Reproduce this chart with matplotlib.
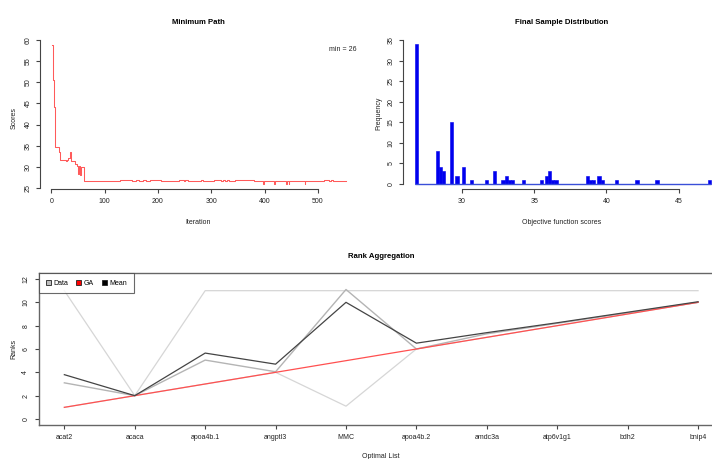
import numpy as np
import matplotlib
matplotlib.use("Agg")
import matplotlib.pyplot as plt
from matplotlib.lines import Line2D

plt.rcParams['font.family'] = ['Liberation Sans', 'DejaVu Sans']

# ---------------- data ----------------
# Minimum path (step change points: iteration, score)
path_iter = [1, 3, 4, 5, 7, 8, 12, 14, 17, 28, 30, 31, 34, 36, 37, 38, 40, 45, 48, 50, 51, 52, 53, 54, 56, 57, 58, 61,
             129, 151, 158, 165, 172, 178, 185, 205, 240, 248, 250, 256, 280, 285, 305, 318, 322, 326, 330, 334,
             345, 380, 397, 398, 418, 419, 440, 441, 445, 446, 475, 476, 512, 520, 524, 528, 553]
path_score = [58.8, 57.6, 50.5, 44.2, 41.9, 34.8, 34.8, 33.6, 31.6, 31.3, 31.6, 32.1, 32.1, 33.6, 32.8, 31.3, 31.3,
              30.8, 30.2, 30.2, 28.3, 30.2, 30.2, 28.0, 30.0, 30.0, 30.0, 26.7,
              27.0, 26.7, 27.0, 26.7, 27.0, 26.7, 27.0, 26.7, 27.0, 26.7, 27.0, 26.7, 27.0, 26.7, 27.0, 26.7,
              27.0, 26.7, 27.0, 26.7, 27.0, 26.7, 26.0, 26.7, 26.0, 26.7, 26.0, 26.7, 26.0, 26.7, 26.0, 26.7,
              27.0, 26.7, 27.0, 26.7, 26.7]
min_score = 26

# Final sample distribution (bin left edges, counts)
bin_left = [26.75, 28.18, 28.40, 28.62, 29.17, 29.56, 29.98, 30.55, 31.59, 32.16, 32.74, 32.96, 33.18, 33.40,
            34.17, 35.39, 35.74, 35.96, 36.18, 36.40, 38.58, 38.80, 39.02, 39.38, 39.60, 40.57, 42.00, 43.39, 47.02]
bin_count = [34, 8, 4, 3, 15, 2, 4, 1, 1, 3, 1, 2, 1, 1,
             1, 1, 2, 3, 1, 1, 2, 1, 1, 2, 1, 1, 1, 1, 1]
bin_width = 0.22
hist_range = [26.75, 47.24]

# Rank aggregation
genes = ["acat2", "acaca", "apoa4b.1", "angptl3", "MMC", "apoa4b.2", "amdc3a", "atp6v1g1", "bdh2", "bnip4"]
data_light1 = [11, 2, 11, 11, 11, 11, 11, 11, 11, 11]
data_light2 = [1, 2, 3, 4, 1.1, 6, 7, 8, 9, 10]
data_mid = [3.1, 2, 5.05, 4.05, 11.1, 6, 7.3, 8.2, 9.1, 10.0]
ga_rank = [1, 2, 3, 4, 5, 6, 7, 8, 9, 10]
mean_rank = [3.8, 2, 5.65, 4.7, 10.0, 6.5, 7.4, 8.25, 9.15, 10.05]

# ---------------- figure ----------------
W, H = 712, 459
fig = plt.figure(figsize=(W / 100, H / 100), dpi=100)

def box(x0, x1, ytop, ybot):
    return [x0 / W, 1 - ybot / H, (x1 - x0) / W, (ybot - ytop) / H]

axcol = '#444444'
txtcol = '#222222'
tick_fs = 5.0
lab_fs = 5.0
title_fs = 5.6

def style_r(ax):
    for s in ['top', 'right']:
        ax.spines[s].set_visible(False)
    for s in ['left', 'bottom']:
        ax.spines[s].set_color(axcol)
        ax.spines[s].set_linewidth(0.8)
    ax.tick_params(direction='out', length=3.0, width=0.8, color=axcol, labelsize=tick_fs,
                   labelcolor=txtcol, pad=3)
    for lab in ax.get_yticklabels():
        lab.set_rotation(90)
        lab.set_va('center')

# --- Minimum Path ---
ax1 = fig.add_axes(box(40, 358, 38.6, 189.4))
ax1.plot(path_iter, path_score, drawstyle='steps-post', color='#ff5a5a', lw=0.75)
ax1.set_xlim(-21, 575)
ax1.set_ylim(24.68, 60.32)
ax1.set_xticks([0, 100, 200, 300, 400, 500])
ax1.set_yticks([25, 30, 35, 40, 45, 50, 55, 60])
ax1.spines['left'].set_bounds(25, 60)
ax1.spines['bottom'].set_bounds(0, 500)
style_r(ax1)
ax1.text(0.994, 0.931, "min = %d" % min_score, transform=ax1.transAxes, ha='right', va='center',
         fontsize=tick_fs, color=txtcol)
fig.text(198 / W, 1 - 22 / H, "Minimum Path", ha='center', va='center', fontsize=title_fs, fontweight='bold')
fig.text(198 / W, 1 - 222 / H, "Iteration", ha='center', va='center', fontsize=lab_fs, color=txtcol)
fig.text(14 / W, 1 - 118 / H, "Scores", ha='center', va='center', fontsize=lab_fs, rotation=90, color=txtcol)

# --- Final Sample Distribution ---
ax2 = fig.add_axes(box(403, 723, 38.6, 189.4))
ax2.hlines(0, hist_range[0], hist_range[1], color='#3a4fd8', lw=1.0)
ax2.bar(bin_left, bin_count, width=bin_width, align='edge', color='#0000ee', edgecolor='#0000ee', lw=0.4)
ax2.set_xlim(25.93, 48.06)
ax2.set_ylim(-1.36, 35.36)
ax2.set_xticks([30, 35, 40, 45])
ax2.set_yticks([0, 5, 10, 15, 20, 25, 30, 35])
ax2.spines['left'].set_bounds(0, 35)
ax2.spines['bottom'].set_bounds(30, 45)
style_r(ax2)
fig.text(562 / W, 1 - 22 / H, "Final Sample Distribution", ha='center', va='center', fontsize=title_fs,
         fontweight='bold')
fig.text(562 / W, 1 - 222 / H, "Objective function scores", ha='center', va='center', fontsize=lab_fs,
         color=txtcol)
fig.text(379 / W, 1 - 113 / H, "Frequency", ha='center', va='center', fontsize=lab_fs, rotation=90,
         color=txtcol)

# --- Rank Aggregation ---
ax3 = fig.add_axes(box(39, 723.4, 273.4, 424.6))
x = np.arange(1, len(genes) + 1)
ax3.plot(x, data_light1, color='#d6d6d6', lw=0.9)
ax3.plot(x, data_light2, color='#d6d6d6', lw=0.9)
ax3.plot(x, data_mid, color='#b4b4b4', lw=1.0)
ax3.plot(x, ga_rank, color='#ff5050', lw=0.9)
ax3.plot(x, mean_rank, color='#444444', lw=0.9)
ax3.set_xlim(0.64, 10.36)
ax3.set_ylim(-0.48, 12.48)
ax3.set_xticks(x)
ax3.set_xticklabels(genes)
ax3.set_yticks([0, 2, 4, 6, 8, 10, 12])
for s in ax3.spines.values():
    s.set_color('#666666')
    s.set_linewidth(1.0)
ax3.tick_params(direction='out', length=3.0, width=0.8, color=axcol, labelsize=tick_fs,
                labelcolor=txtcol, pad=4)
for lab in ax3.get_yticklabels():
    lab.set_rotation(90)
    lab.set_va('center')
handles = [Line2D([], [], ls='none', marker='s', ms=3.6, mfc='#bebebe', mec='#222222', mew=0.6),
           Line2D([], [], ls='none', marker='s', ms=3.6, mfc='red', mec='#222222', mew=0.6),
           Line2D([], [], ls='none', marker='s', ms=3.6, mfc='black', mec='#222222', mew=0.6)]
leg = ax3.legend(handles, ["Data", "GA", "Mean"], loc='upper left', ncol=3, fontsize=tick_fs,
                 frameon=True, fancybox=False, borderaxespad=0, handlelength=0.7, handletextpad=0.5,
                 columnspacing=1.05, borderpad=0.9)
leg.get_frame().set_edgecolor('#444444')
leg.get_frame().set_linewidth(0.8)
fig.text(381 / W, 1 - 256 / H, "Rank Aggregation", ha='center', va='center', fontsize=title_fs,
         fontweight='bold')
fig.text(381 / W, 1 - 456 / H, "Optimal List", ha='center', va='center', fontsize=lab_fs, color=txtcol)
fig.text(14 / W, 1 - 349 / H, "Ranks", ha='center', va='center', fontsize=lab_fs, rotation=90, color=txtcol)

fig.savefig("out.png", dpi=100)
